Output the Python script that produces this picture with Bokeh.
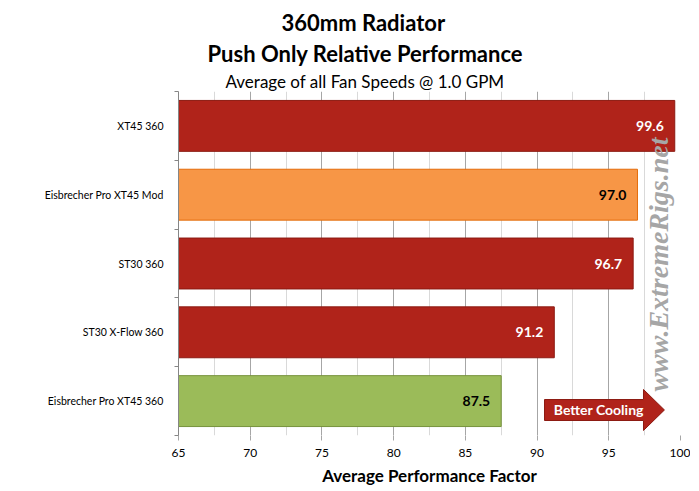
from math import pi

from bokeh.core.properties import value
from bokeh.embed import file_html
from bokeh.models import ColumnDataSource, FixedTicker, Label, Range1d, Title
from bokeh.plotting import figure
from bokeh.resources import INLINE

# dados do gráfico (de cima para baixo)
radiadores = ["XT45 360", "Eisbrecher Pro XT45 Mod", "ST30 360", "ST30 X-Flow 360", "Eisbrecher Pro XT45 360"]
desempenho = [99.6, 97.0, 96.7, 91.2, 87.5]
cores = ["#b0231a", "#f79646", "#b0231a", "#b0231a", "#9bbb59"]
bordas = ["#8c1a12", "#e46c0a", "#8c1a12", "#8c1a12", "#76923c"]
cor_texto = ["white", "black", "white", "white", "black"]
ticks_x = [65, 70, 75, 80, 85, 90, 95, 100]

fonte = "Lato"
n = len(radiadores)
posicoes = [n - i - 0.5 for i in range(n)]

dados = ColumnDataSource(dict(
    y=posicoes, valor=desempenho, cor=cores, borda=bordas,
    rotulo=["%.1f" % v for v in desempenho], cor_texto=cor_texto,
))

p = figure(width=690, height=489, output_backend="svg", toolbar_location=None,
           x_range=Range1d(65, 100), y_range=Range1d(0, n),
           min_border_left=178, min_border_right=10, min_border_top=91, min_border_bottom=54)
p.outline_line_color = None
p.background_fill_color = "white"

# títulos (alinhados à esquerda com deslocamento para centralizar no gráfico todo)
p.add_layout(Title(text="Average of all Fan Speeds @ 1.0 GPM", text_font=fonte, text_font_size="17px",
                   text_font_style="normal", text_color="black", align="left", offset=47, standoff=0), "above")
p.add_layout(Title(text="Push Only Relative Performance", text_font=fonte, text_font_size="22px",
                   text_font_style="bold", text_color="black", align="left", offset=29, standoff=4), "above")
p.add_layout(Title(text="360mm Radiator", text_font=fonte, text_font_size="22px",
                   text_font_style="bold", text_color="black", align="left", offset=103, standoff=0), "above")

# barras
p.hbar(y="y", left=65, right="valor", height=0.74, source=dados,
       fill_color="cor", line_color="borda", line_width=1)

# rótulos dos valores
p.text(x="valor", y="y", text="rotulo", source=dados, x_offset=-11, text_align="right",
       text_baseline="middle", text_color="cor_texto", text_font=value(fonte),
       text_font_size="14px", text_font_style="bold")

# seta "Better Cooling"
seta_x = [90.52, 97.42, 97.42, 98.88, 97.42, 97.42, 90.52]
seta_y = [0.523, 0.523, 0.669, 0.371, 0.073, 0.218, 0.218]
p.patch(seta_x, seta_y, fill_color="#b0231a", line_color="#8c1a12", line_width=1)
p.add_layout(Label(x=94.3, y=0.371, text="Better Cooling", text_align="center", text_baseline="middle",
                   text_color="white", text_font=fonte, text_font_size="14px", text_font_style="bold"))

# marca d'água
p.add_layout(Label(x=98.45, y=2.485, text="www.ExtremeRigs.net", angle=pi / 2, text_align="center",
                   text_baseline="middle", text_color="#a6a6a6", text_font="Liberation Serif",
                   text_font_size="28px", text_font_style="bold italic"))

# eixo x
p.xaxis.ticker = FixedTicker(ticks=ticks_x, minor_ticks=[t + 2.5 for t in ticks_x[:-1]])
p.xaxis.axis_line_color = None
p.xaxis.major_tick_line_color = "#a6a6a6"
p.xaxis.major_tick_in = 0
p.xaxis.major_tick_out = 5
p.xaxis.minor_tick_line_color = None
p.xaxis.major_label_text_font = fonte
p.xaxis.major_label_text_font_size = "12px"
p.xaxis.major_label_text_color = "black"
p.xaxis.major_label_standoff = 8
p.xaxis.axis_label = "Average Performance Factor"
p.xaxis.axis_label_text_font = fonte
p.xaxis.axis_label_text_font_size = "17px"
p.xaxis.axis_label_text_font_style = "bold"
p.xaxis.axis_label_text_color = "black"
p.xaxis.axis_label_standoff = 5
p.xgrid.grid_line_color = "#a6a6a6"
p.xgrid.minor_grid_line_color = "#d9d9d9"

# eixo y
p.yaxis.ticker = FixedTicker(ticks=posicoes, minor_ticks=list(range(n + 1)))
p.yaxis.major_label_overrides = {pos: nome for pos, nome in zip(posicoes, radiadores)}
p.yaxis.axis_line_color = "#868686"
p.yaxis.major_tick_line_color = None
p.yaxis.minor_tick_line_color = "#868686"
p.yaxis.minor_tick_in = 0
p.yaxis.minor_tick_out = 4
p.yaxis.major_label_text_font = fonte
p.yaxis.major_label_text_font_size = "10.5px"
p.yaxis.major_label_text_color = "black"
p.yaxis.major_label_standoff = 9
p.ygrid.grid_line_color = None

open("out.html", "w").write(file_html(p, INLINE))
